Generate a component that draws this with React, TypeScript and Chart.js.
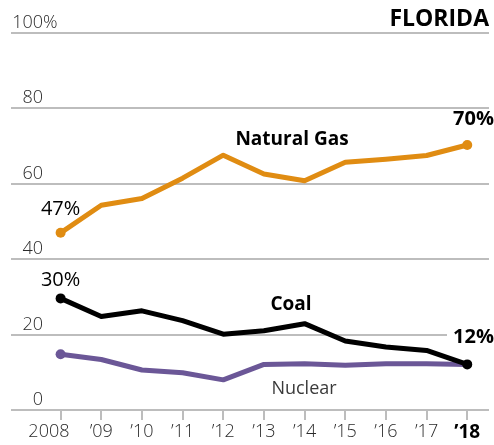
import React, { useEffect, useRef } from "react";
import { Chart, registerables } from "chart.js";

Chart.register(...registerables);

const years = [2008, 2009, 2010, 2011, 2012, 2013, 2014, 2015, 2016, 2017, 2018];
const xTickLabels = ["2008", "’09", "’10", "’11", "’12", "’13", "’14", "’15", "’16", "’17", "’18"];
const yTickValues = [0, 20, 40, 60, 80, 100];
const naturalGas = [47, 54.3, 56.1, 61.5, 67.6, 62.6, 60.8, 65.7, 66.5, 67.5, 70.3];
const coal = [29.6, 24.8, 26.3, 23.7, 20.1, 21.0, 22.9, 18.3, 16.7, 15.8, 12.1];
const nuclear = [14.8, 13.4, 10.6, 9.9, 8.0, 12.1, 12.3, 11.9, 12.3, 12.3, 12.1];

const FONT = "'Open Sans', 'Noto Sans', sans-serif";
const GAS = "#E08C12";
const COAL = "#000000";
const NUC = "#6B5797";
const GRID = "#bdbdbd";
const TICK = "#2a2a2a";

const toPts = (vals: number[]) => vals.map((v, i) => ({ x: years[i], y: v }));
const endRadius = (n: number, last: boolean) => (ctx: any) =>
  ctx.dataIndex === 0 || (last && ctx.dataIndex === n - 1) ? 5 : 0;

const annotations = {
  id: "annotations",
  beforeDatasetsDraw(chart: any) {
    const { ctx, scales } = chart;
    const ys = scales.y;
    ctx.save();
    const y20 = ys.getPixelForValue(20);
    ctx.fillStyle = "#ffffff";
    ctx.fillRect(447, y20 - 12, 60, 24);
    ctx.font = `300 18px ${FONT}`;
    ctx.fillStyle = TICK;
    ctx.textBaseline = "alphabetic";
    yTickValues.forEach((v) => {
      const py = ys.getPixelForValue(v) - 5;
      ctx.textAlign = "right";
      ctx.fillText(String(v), 43, py);
      if (v === 100) {
        ctx.textAlign = "left";
        ctx.fillText("%", 43, py);
      }
    });
    ctx.restore();
  },
  afterDatasetsDraw(chart: any) {
    const { ctx, scales } = chart;
    const xs = scales.x;
    const ys = scales.y;
    const n = years.length;
    const px = (i: number) => xs.getPixelForValue(years[i]);
    const py = (v: number) => ys.getPixelForValue(v);
    ctx.save();
    ctx.textBaseline = "alphabetic";
    ctx.fillStyle = "#000";

    ctx.font = `bold 23px ${FONT}`;
    ctx.textAlign = "right";
    ctx.fillText("FLORIDA", 489, 26);

    ctx.font = `20px ${FONT}`;
    ctx.textAlign = "center";
    ctx.fillText(`${Math.round(naturalGas[0])}%`, px(0), py(naturalGas[0]) - 18);
    ctx.fillText(`${Math.round(coal[0])}%`, px(0), py(coal[0]) - 12);

    ctx.font = `bold 20px ${FONT}`;
    ctx.textAlign = "right";
    ctx.fillText(`${Math.round(naturalGas[n - 1])}%`, 494, py(naturalGas[n - 1]) - 20);
    ctx.fillText(`${Math.round(coal[n - 1])}%`, 494, py(coal[n - 1]) - 21);

    ctx.font = `bold 19px ${FONT}`;
    ctx.textAlign = "center";
    ctx.fillText("Natural Gas", 292, 145);
    ctx.fillText("Coal", 291, 310);
    ctx.font = `18px ${FONT}`;
    ctx.fillStyle = "#3a3a3a";
    ctx.fillText("Nuclear", 304, 394);
    ctx.restore();
  },
};

export default function App() {
  const ref = useRef<HTMLCanvasElement>(null);
  useEffect(() => {
    if (!ref.current) return;
    const n = years.length;
    const chart = new Chart(ref.current, {
      type: "line",
      data: {
        datasets: [
          {
            label: "Coal",
            data: toPts(coal),
            borderColor: COAL,
            backgroundColor: COAL,
            borderWidth: 5,
            pointRadius: endRadius(n, true),
            pointBorderWidth: 0,
            tension: 0,
            borderJoinStyle: "round",
          },
          {
            label: "Natural Gas",
            data: toPts(naturalGas),
            borderColor: GAS,
            backgroundColor: GAS,
            borderWidth: 5,
            pointRadius: endRadius(n, true),
            pointBorderWidth: 0,
            tension: 0,
            borderJoinStyle: "round",
          },
          {
            label: "Nuclear",
            data: toPts(nuclear),
            borderColor: NUC,
            backgroundColor: NUC,
            borderWidth: 5,
            pointRadius: endRadius(n, false),
            pointBorderWidth: 0,
            tension: 0,
            borderJoinStyle: "round",
          },
        ],
      },
      options: {
        responsive: false,
        animation: false,
        devicePixelRatio: 1,
        layout: { padding: { top: 33, left: 11, right: 0, bottom: 0 } },
        plugins: { legend: { display: false }, tooltip: { enabled: false }, title: { display: false } },
        scales: {
          x: {
            type: "linear",
            min: 2006.78,
            max: 2018.535,
            afterBuildTicks: (scale: any) => {
              scale.ticks = years.map((y) => ({ value: y }));
            },
            border: { display: false },
            grid: {
              display: true,
              drawOnChartArea: false,
              drawTicks: true,
              tickLength: 10,
              color: GRID,
              lineWidth: 2,
            },
            ticks: {
              autoSkip: false,
              maxRotation: 0,
              padding: 3,
              color: (ctx: any) => (ctx.tick && ctx.tick.value === 2018 ? "#000" : TICK),
              font: (ctx: any) =>
                ctx.tick && ctx.tick.value === 2018
                  ? { family: FONT, size: 19, weight: "bold", lineHeight: 1 }
                  : { family: FONT, size: 18, weight: "300", lineHeight: 1 },
              callback: (v: any) => {
                const i = years.indexOf(Number(v));
                if (i < 0) return "";
                return i === 0 ? xTickLabels[i] + "     " : xTickLabels[i];
              },
            },
          },
          y: {
            min: 0,
            max: 100,
            afterBuildTicks: (scale: any) => {
              scale.ticks = yTickValues.map((v) => ({ value: v }));
            },
            border: { display: false },
            grid: { color: GRID, lineWidth: 2, drawTicks: false },
            ticks: { display: false },
          },
        },
      },
      plugins: [annotations],
    });
    return () => chart.destroy();
  }, []);
  return (
    <div style={{ position: "absolute", left: 0, top: 0, width: 494, height: 445, background: "#fff" }}>
      <canvas ref={ref} width={494} height={445} style={{ display: "block" }} />
    </div>
  );
}
